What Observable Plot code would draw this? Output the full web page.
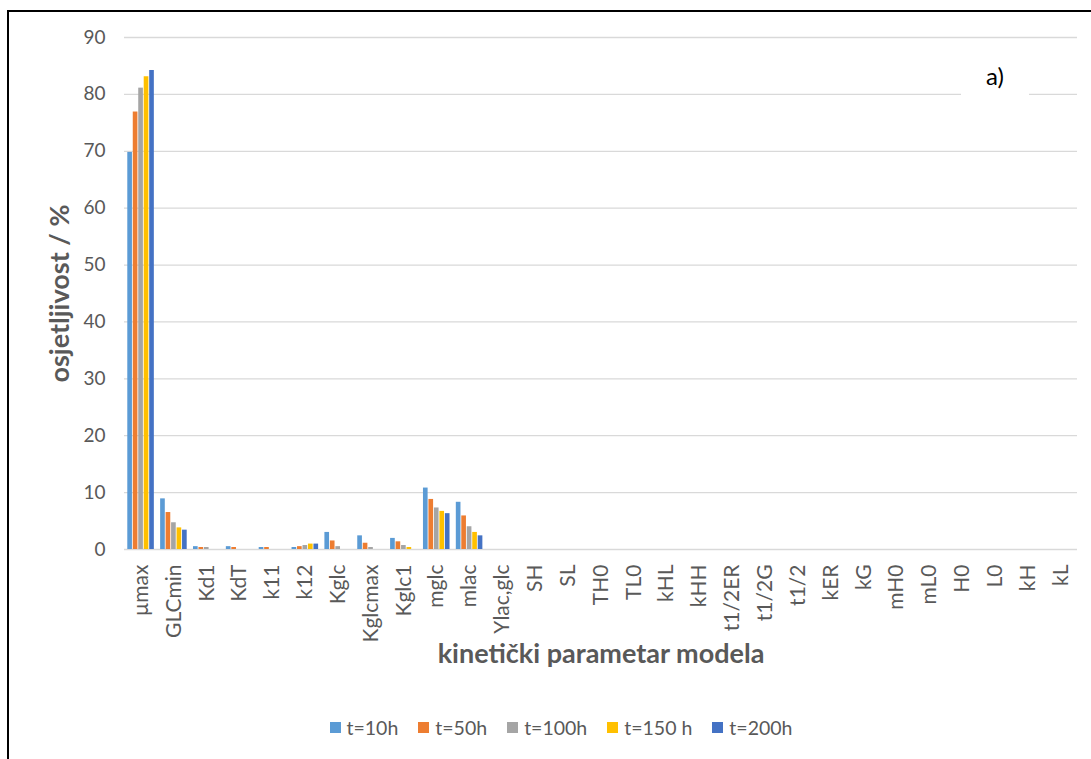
<!DOCTYPE html>
<html>
<head>
<meta charset="utf-8">
<script src="https://cdn.jsdelivr.net/npm/d3@7"></script>
<script src="https://cdn.jsdelivr.net/npm/@observablehq/plot@0.6"></script>
<style>
  html, body { margin: 0; padding: 0; background: #fff; }
  body { width: 1091px; height: 759px; position: relative; overflow: hidden; font-family: Lato, "Noto Sans", sans-serif; }
  #chart { position: absolute; left: 0; top: 0; }
  .bl { position: absolute; left: 7px; top: 10px; width: 2px; height: 760px; background: #000; }
  .bt { position: absolute; left: 7px; top: 10px; width: 1100px; height: 2px; background: #000; }
  #tag { position: absolute; left: 961px; top: 54px; width: 68px; height: 42px; background: #fff;
         font-size: 24px; color: #000; display: flex; align-items: center; justify-content: center; }
  #legend { position: absolute; top: 716px; left: 0; width: 1122px; display: flex; justify-content: center;
            gap: 20px; font-size: 19.5px; color: #595959; }
  #legend .it { display: flex; align-items: center; gap: 6px; }
  #legend .sw { width: 11px; height: 11px; display: inline-block; }
</style>
</head>
<body>
<div id="chart"></div>
<div class="bl"></div>
<div class="bt"></div>
<div id="tag">a)</div>
<div id="legend"></div>
<script>
const categories = ["µmax","GLCmin","Kd1","KdT","k11","k12","Kglc","Kglcmax","Kglc1","mglc","mlac","Ylac,glc","SH","SL","TH0","TL0","kHL","kHH","t1/2ER","t1/2G","t1/2","kER","kG","mH0","mL0","H0","L0","kH","kL"];
const series = ["t=10h","t=50h","t=100h","t=150 h","t=200h"];
const colors = ["#5B9BD5","#ED7D31","#A5A5A5","#FFC000","#4472C4"];
const t10  = [69.8, 8.9, 0.5, 0.5, 0.35, 0.35, 3.0, 2.4, 1.95, 10.8, 8.3, 0,0,0,0,0,0,0,0,0,0,0,0,0,0,0,0,0,0];
const t50  = [76.9, 6.5, 0.35, 0.35, 0.35, 0.5, 1.5, 1.1, 1.35, 8.8, 5.9, 0,0,0,0,0,0,0,0,0,0,0,0,0,0,0,0,0,0];
const t100 = [81.1, 4.7, 0.35, 0, 0, 0.7, 0.5, 0.35, 0.7, 7.3, 4.0, 0,0,0,0,0,0,0,0,0,0,0,0,0,0,0,0,0,0];
const t150 = [83.1, 3.8, 0, 0, 0, 0.95, 0, 0, 0.35, 6.7, 3.0, 0,0,0,0,0,0,0,0,0,0,0,0,0,0,0,0,0,0];
const t200 = [84.2, 3.4, 0, 0, 0, 0.95, 0, 0, 0, 6.3, 2.4, 0,0,0,0,0,0,0,0,0,0,0,0,0,0,0,0,0,0];
const yTicks = [0,10,20,30,40,50,60,70,80,90];
const yTitle = "osjetljivost / %";
const xTitle = "kinetički parametar modela";

const valuesBySeries = [t10, t50, t100, t150, t200];
const data = [];
categories.forEach((c, i) => {
  series.forEach((s, j) => data.push({key: c + "|" + s, cat: c, series: s, value: valuesBySeries[j][i]}));
});
// band domain: one slot per bar plus one empty spacer slot between category groups
const xDomain = [];
categories.forEach((c, i) => {
  if (i > 0) xDomain.push(c + "|gap");
  series.forEach(s => xDomain.push(c + "|" + s));
});
const middle = series[2];

const plot = Plot.plot({
  width: 1091,
  height: 700,
  marginLeft: 124,
  marginRight: 14,
  marginTop: 37,
  marginBottom: 151,
  style: {fontFamily: "Lato, sans-serif", fontSize: "19px", color: "#595959", background: "transparent", overflow: "visible"},
  x: {domain: xDomain, paddingInner: 0.15, paddingOuter: 0.6, label: null},
  y: {domain: [0, 90], label: null},
  color: {domain: series, range: colors},
  marks: [
    Plot.ruleY(yTicks, {stroke: "#D9D9D9", strokeWidth: 1.3}),
    Plot.barY(data, {x: "key", y: "value", fill: "series"}),
    Plot.axisY({ticks: yTicks, tickSize: 0, tickPadding: 19, fontSize: 19, label: null}),
    Plot.axisX({ticks: categories.map(c => c + "|" + middle), tickFormat: d => d.split("|")[0],
                tickRotate: -90, tickSize: 0, tickPadding: 15, fontSize: 21, label: null}),
    Plot.text([yTitle], {frameAnchor: "left", dx: -64, rotate: -90, textAnchor: "middle", fontWeight: "bold", fontSize: 27, fill: "#595959"}),
    Plot.text([xTitle], {frameAnchor: "bottom", dy: 113, textAnchor: "middle", fontWeight: "bold", fontSize: 27, fill: "#595959"})
  ]
});
document.getElementById("chart").appendChild(plot);

const legend = document.getElementById("legend");
series.forEach((s, j) => {
  const it = document.createElement("div");
  it.className = "it";
  const sw = document.createElement("span");
  sw.className = "sw";
  sw.style.background = colors[j];
  const tx = document.createElement("span");
  tx.textContent = s;
  it.appendChild(sw);
  it.appendChild(tx);
  legend.appendChild(it);
});
</script>
</body>
</html>
